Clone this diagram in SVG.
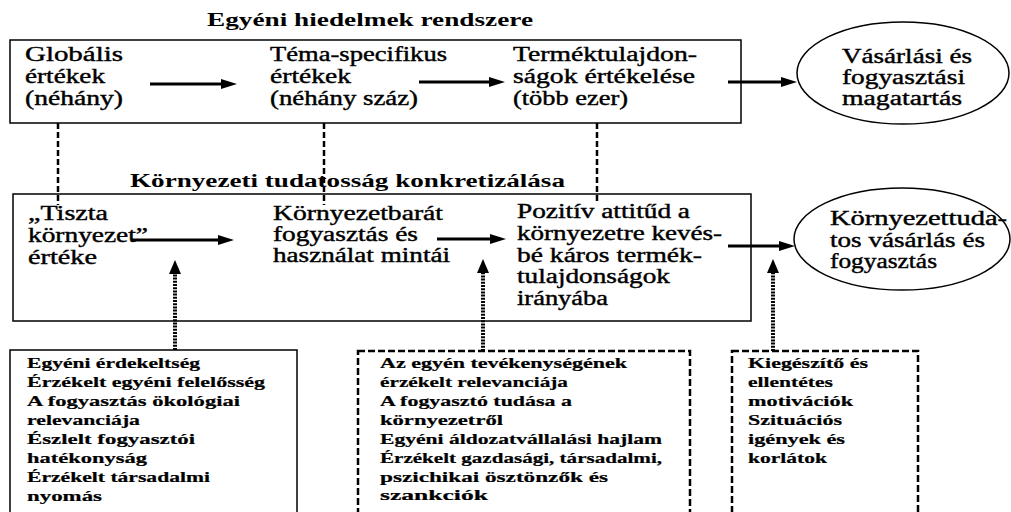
<svg xmlns="http://www.w3.org/2000/svg" width="1011" height="512" viewBox="0 0 1011 512">
  <style>
    text { font-family: 'Liberation Serif', 'Times New Roman', serif; fill: #000; }
    .t { font-size: 20px; stroke: #000; stroke-width: 0.4; }
    .h { font-size: 18px; font-weight: bold; }
    .s { font-size: 15px; font-weight: bold; stroke: #000; stroke-width: 0.2; }
    .box { fill: none; stroke: #000; stroke-width: 1.5; }
    .dbox { fill: none; stroke: #000; stroke-width: 2.5; stroke-dasharray: 7 3; }
    .flow { stroke: #000; stroke-width: 3; fill: none; marker-end: url(#arrow); }
    .link { stroke: #000; stroke-width: 2.5; stroke-dasharray: 6 3; fill: none; }
    .infl { stroke: #000; stroke-width: 4; stroke-dasharray: 2 1.2; fill: none; marker-end: url(#arrowUp); }
  </style>
  <defs>
    <marker id="arrow" viewBox="0 0 16 10" refX="6" refY="5" markerWidth="16" markerHeight="10" orient="auto" markerUnits="userSpaceOnUse">
      <path d="M0,0 L16,5 L0,10 z" fill="#000"/>
    </marker>
    <marker id="arrowUp" viewBox="0 0 14 12" refX="4" refY="6" markerWidth="14" markerHeight="12" orient="auto" markerUnits="userSpaceOnUse">
      <path d="M0,0 L14,6 L0,12 z" fill="#000"/>
    </marker>
  </defs>
  <rect width="1011" height="512" fill="#fff"/>

  <!-- section titles -->
  <text class="h" x="207" y="26" textLength="326" lengthAdjust="spacingAndGlyphs">Egyéni hiedelmek rendszere</text>
  <text class="h" x="130" y="187" textLength="435" lengthAdjust="spacingAndGlyphs">Környezeti tudatosság konkretizálása</text>

  <!-- belief system frame -->
  <g id="beliefs">
    <rect class="box" x="10" y="40" width="731" height="83"/>
  </g>
  <g id="global-values">
    <text class="t" x="25" y="61" textLength="98" lengthAdjust="spacingAndGlyphs">Globális</text>
    <text class="t" x="25" y="83" textLength="80" lengthAdjust="spacingAndGlyphs">értékek</text>
    <text class="t" x="25" y="105" textLength="98" lengthAdjust="spacingAndGlyphs">(néhány)</text>
  </g>
  <g id="topic-values">
    <text class="t" x="270" y="61" textLength="177" lengthAdjust="spacingAndGlyphs">Téma-specifikus</text>
    <text class="t" x="270" y="83" textLength="81" lengthAdjust="spacingAndGlyphs">értékek</text>
    <text class="t" x="270" y="105" textLength="148" lengthAdjust="spacingAndGlyphs">(néhány száz)</text>
  </g>
  <g id="product-attributes">
    <text class="t" x="513" y="61" textLength="184" lengthAdjust="spacingAndGlyphs">Terméktulajdon-</text>
    <text class="t" x="513" y="83" textLength="182" lengthAdjust="spacingAndGlyphs">ságok értékelése</text>
    <text class="t" x="513" y="105" textLength="115" lengthAdjust="spacingAndGlyphs">(több ezer)</text>
  </g>
  <g id="buying-behaviour">
    <ellipse class="box" cx="903" cy="73" rx="106" ry="51"/>
    <text class="t" x="842" y="63" textLength="130" lengthAdjust="spacingAndGlyphs">Vásárlási és</text>
    <text class="t" x="842" y="84" textLength="123" lengthAdjust="spacingAndGlyphs">fogyasztási</text>
    <text class="t" x="842" y="105" textLength="120" lengthAdjust="spacingAndGlyphs">magatartás</text>
  </g>

  <!-- environmental awareness frame -->
  <g id="awareness">
    <rect class="box" x="13" y="194" width="738" height="127"/>
  </g>
  <g id="clean-environment">
    <text class="t" x="28" y="220" textLength="80" lengthAdjust="spacingAndGlyphs">„Tiszta</text>
    <text class="t" x="28" y="242" textLength="120" lengthAdjust="spacingAndGlyphs">környezet”</text>
    <text class="t" x="28" y="264" textLength="69" lengthAdjust="spacingAndGlyphs">értéke</text>
  </g>
  <g id="green-patterns">
    <text class="t" x="273" y="220" textLength="170" lengthAdjust="spacingAndGlyphs">Környezetbarát</text>
    <text class="t" x="273" y="241" textLength="145" lengthAdjust="spacingAndGlyphs">fogyasztás és</text>
    <text class="t" x="273" y="262" textLength="177" lengthAdjust="spacingAndGlyphs">használat mintái</text>
  </g>
  <g id="positive-attitude">
    <text class="t" x="517" y="218" textLength="173" lengthAdjust="spacingAndGlyphs">Pozitív attitűd a</text>
    <text class="t" x="517" y="240" textLength="205" lengthAdjust="spacingAndGlyphs">környezetre kevés-</text>
    <text class="t" x="517" y="262" textLength="185" lengthAdjust="spacingAndGlyphs">bé káros termék-</text>
    <text class="t" x="517" y="283" textLength="153" lengthAdjust="spacingAndGlyphs">tulajdonságok</text>
    <text class="t" x="517" y="305" textLength="91" lengthAdjust="spacingAndGlyphs">irányába</text>
  </g>
  <g id="conscious-buying">
    <ellipse class="box" cx="902" cy="239" rx="108" ry="51"/>
    <text class="t" x="830" y="225" textLength="177" lengthAdjust="spacingAndGlyphs">Környezettuda-</text>
    <text class="t" x="830" y="247" textLength="155" lengthAdjust="spacingAndGlyphs">tos vásárlás és</text>
    <text class="t" x="830" y="268" textLength="107" lengthAdjust="spacingAndGlyphs">fogyasztás</text>
  </g>

  <!-- influencing factors -->
  <g id="personal-factors">
    <rect class="box" x="10" y="350" width="287" height="180"/>
    <text class="s" x="27" y="368" textLength="173" lengthAdjust="spacingAndGlyphs">Egyéni érdekeltség</text>
    <text class="s" x="27" y="387" textLength="238" lengthAdjust="spacingAndGlyphs">Érzékelt egyéni felelősség</text>
    <text class="s" x="27" y="406" textLength="213" lengthAdjust="spacingAndGlyphs">A fogyasztás ökológiai</text>
    <text class="s" x="27" y="425" textLength="113" lengthAdjust="spacingAndGlyphs">relevanciája</text>
    <text class="s" x="27" y="444" textLength="168" lengthAdjust="spacingAndGlyphs">Észlelt fogyasztói</text>
    <text class="s" x="27" y="463" textLength="120" lengthAdjust="spacingAndGlyphs">hatékonyság</text>
    <text class="s" x="27" y="482" textLength="183" lengthAdjust="spacingAndGlyphs">Érzékelt társadalmi</text>
    <text class="s" x="27" y="501" textLength="75" lengthAdjust="spacingAndGlyphs">nyomás</text>
  </g>
  <g id="action-factors">
    <rect class="dbox" x="358" y="351" width="332" height="180"/>
    <text class="s" x="380" y="368" textLength="247" lengthAdjust="spacingAndGlyphs">Az egyén tevékenységének</text>
    <text class="s" x="380" y="387" textLength="188" lengthAdjust="spacingAndGlyphs">érzékelt relevanciája</text>
    <text class="s" x="380" y="406" textLength="192" lengthAdjust="spacingAndGlyphs">A fogyasztó tudása a</text>
    <text class="s" x="380" y="425" textLength="123" lengthAdjust="spacingAndGlyphs">környezetről</text>
    <text class="s" x="380" y="444" textLength="282" lengthAdjust="spacingAndGlyphs">Egyéni áldozatvállalási hajlam</text>
    <text class="s" x="380" y="463" textLength="282" lengthAdjust="spacingAndGlyphs">Érzékelt gazdasági, társadalmi,</text>
    <text class="s" x="380" y="482" textLength="228" lengthAdjust="spacingAndGlyphs">pszichikai ösztönzők és</text>
    <text class="s" x="380" y="500" textLength="108" lengthAdjust="spacingAndGlyphs">szankciók</text>
  </g>
  <g id="situational-factors">
    <rect class="dbox" x="732" y="351" width="186" height="180"/>
    <text class="s" x="748" y="368" textLength="120" lengthAdjust="spacingAndGlyphs">Kiegészítő és</text>
    <text class="s" x="748" y="387" textLength="85" lengthAdjust="spacingAndGlyphs">ellentétes</text>
    <text class="s" x="748" y="406" textLength="105" lengthAdjust="spacingAndGlyphs">motivációk</text>
    <text class="s" x="748" y="425" textLength="94" lengthAdjust="spacingAndGlyphs">Szituációs</text>
    <text class="s" x="748" y="444" textLength="97" lengthAdjust="spacingAndGlyphs">igények és</text>
    <text class="s" x="748" y="463" textLength="79" lengthAdjust="spacingAndGlyphs">korlátok</text>
  </g>

  <g id="connectors">
    <!-- main flow arrows -->
    <line class="flow" x1="150" y1="84" x2="227" y2="84"/>
    <line class="flow" x1="419" y1="82" x2="495" y2="82"/>
    <line class="flow" x1="728" y1="82" x2="787" y2="82"/>
    <line class="flow" x1="131" y1="240" x2="224" y2="240"/>
    <line class="flow" x1="437" y1="239" x2="496" y2="239"/>
    <line class="flow" x1="728" y1="246" x2="785" y2="246"/>
    <!-- links between the two levels -->
    <line class="link" x1="58" y1="123" x2="58" y2="205"/>
    <line class="link" x1="324" y1="123" x2="324" y2="205"/>
    <line class="link" x1="597" y1="123" x2="597" y2="202"/>
    <!-- factor influences -->
    <line class="infl" x1="175" y1="350" x2="175" y2="270"/>
    <line class="infl" x1="483" y1="351" x2="483" y2="269"/>
    <line class="infl" x1="773" y1="351" x2="773" y2="269"/>
  </g>
</svg>
